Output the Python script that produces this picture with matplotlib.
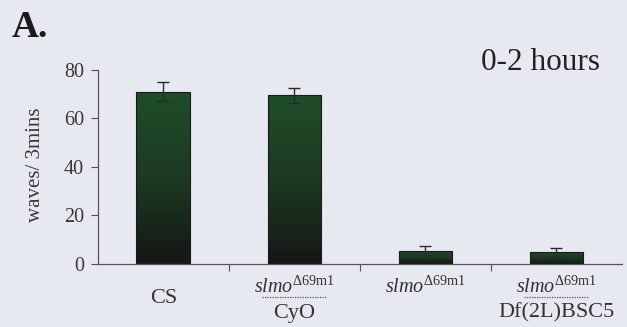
import matplotlib
matplotlib.use("Agg")
import matplotlib.pyplot as plt
import numpy as np
from matplotlib.colors import LinearSegmentedColormap
from matplotlib.transforms import blended_transform_factory

plt.rcParams['font.family'] = ['Liberation Serif', 'DejaVu Serif']
plt.rcParams['mathtext.fontset'] = 'custom'
plt.rcParams['mathtext.rm'] = 'Liberation Serif'
plt.rcParams['mathtext.it'] = 'Liberation Serif:italic'

categories = ["CS", "slmo/CyO", "slmo", "slmo/Df(2L)BSC5"]
values = [71.0, 69.5, 5.5, 5.0]
errors = [4.0, 3.0, 1.9, 1.7]
yticks = [0, 20, 40, 60, 80]

BG = "#e7e9f0"
fig = plt.figure(figsize=(6.27, 3.27), dpi=100, facecolor=BG)
ax = fig.add_axes([0.156, 0.193, 0.836, 0.593], facecolor=BG)

x = np.arange(len(values)) + 0.5
bars = ax.bar(x, values, width=0.41, color="none", edgecolor="#1a1a1a",
              linewidth=0.8, zorder=2)
cmap = LinearSegmentedColormap.from_list("g", ["#161616", "#1c3a22", "#1f4d29"])
grad = np.linspace(0, 1, 256).reshape(-1, 1)
for b in bars:
    x0, y0 = b.get_x(), b.get_y()
    w, h = b.get_width(), b.get_height()
    im = ax.imshow(grad, cmap=cmap, origin="lower", aspect="auto",
                   extent=[x0, x0 + w, y0, y0 + h], zorder=1.5)
    im.set_clip_path(b)
ax.errorbar(x, values, yerr=errors, fmt="none", ecolor="#2a2a2a",
            elinewidth=1.0, capsize=4.3, capthick=1.0, zorder=3)

ax.set_xlim(0, 4)
ax.set_ylim(0, 80)
ax.set_yticks(yticks)
ax.set_yticklabels([str(v) for v in yticks], fontsize=14.5, color="#383838")
ax.set_xticks([1, 2, 3])
ax.set_xticklabels([])
ax.tick_params(axis="both", direction="out", length=5, width=0.8, color="#555555")
ax.tick_params(axis="y", pad=5)
for s in ["top", "right"]:
    ax.spines[s].set_visible(False)
for s in ["left", "bottom"]:
    ax.spines[s].set_color("#555555")
    ax.spines[s].set_linewidth(0.9)

ax.set_ylabel("waves/ 3mins", fontsize=15, color="#383838")
ax.yaxis.set_label_coords(-0.1, 0.51)

tr = blended_transform_factory(ax.transData, ax.transAxes)
slmo = r"$\mathit{slmo}^{\mathrm{\Delta69m1}}$"
tc = "#333333"
ax.text(x[0], -0.2, "CS", transform=tr, ha="center", va="baseline", fontsize=16, color=tc)
for i, bottom in [(1, "CyO"), (3, "Df(2L)BSC5")]:
    ax.text(x[i], -0.149, slmo, transform=tr, ha="center", va="baseline", fontsize=14.5, color=tc)
    ax.plot([x[i] - 0.25, x[i] + 0.25], [-0.172, -0.172], transform=tr,
            color="#555555", linestyle=(0, (1, 1)), linewidth=0.9, clip_on=False)
    ax.text(x[i], -0.278, bottom, transform=tr, ha="center", va="baseline", fontsize=16, color=tc)
ax.text(x[2], -0.149, slmo, transform=tr, ha="center", va="baseline", fontsize=14.5, color=tc)

fig.text(0.019, 0.887, "A.", fontsize=27, fontweight="bold", ha="left", va="baseline", color="#1a1a1a")
fig.text(0.957, 0.786, "0-2 hours", fontsize=22.5, ha="right", va="baseline", color="#222222")

fig.savefig("out.png", dpi=100, facecolor=BG)
